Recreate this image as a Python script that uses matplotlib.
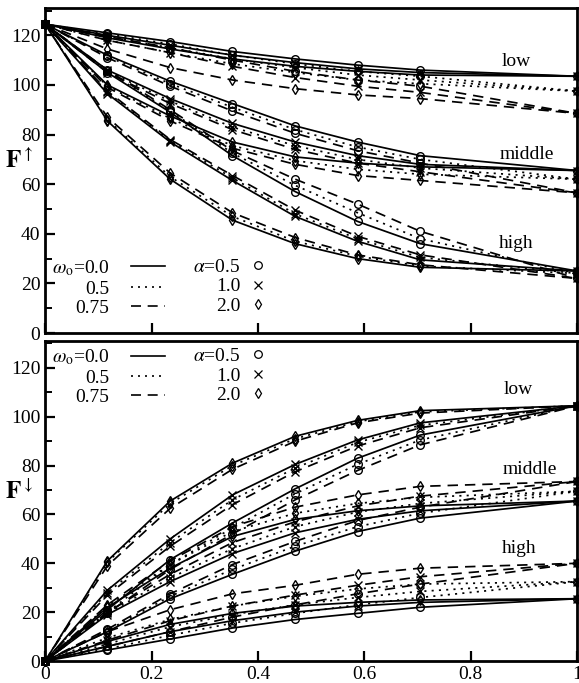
# -*- coding: utf-8 -*-

# F-up / F-down against mu for three groups (low, middle, high),
# three single scattering albedos (line style) and three alphas (marker).

import matplotlib
matplotlib.use("Agg")
import matplotlib.pyplot as plt
from matplotlib.lines import Line2D
from matplotlib.ticker import MultipleLocator

plt.rcParams["font.family"] = ["Liberation Serif", "DejaVu Serif"]
plt.rcParams["mathtext.fontset"] = "stix"

mu = [0.0, 0.117, 0.235, 0.352, 0.47, 0.587, 0.705, 1.0]

omega_labels = [r"$\omega_{\mathrm{o}}$=0.0", "0.5", "0.75"]
alpha_labels = [r"$\alpha$=0.5", "1.0", "2.0"]
group_names = ["low", "middle", "high"]

# upward flux, rows are alpha = 0.5, 1.0, 2.0
up_low_w00 = [[124.5, 121.0, 117.5, 113.5, 110.5, 108.0, 106.0, 103.5],
              [124.5, 120.0, 116.0, 112.0, 109.0, 106.5, 105.0, 103.5],
              [124.5, 119.0, 114.5, 110.5, 107.5, 105.5, 104.0, 103.5]]
up_low_w05 = [[124.5, 120.5, 116.5, 112.0, 108.5, 105.5, 103.5, 97.5],
              [124.5, 119.5, 115.0, 110.5, 107.0, 104.0, 102.0, 97.5],
              [124.5, 118.0, 113.0, 108.5, 105.0, 102.0, 100.5, 97.5]]
up_low_w075 = [[124.5, 119.5, 115.0, 110.0, 105.5, 102.0, 99.5, 88.5],
               [124.5, 118.0, 113.0, 107.5, 103.0, 99.5, 97.0, 88.5],
               [124.5, 114.5, 107.0, 102.0, 98.5, 96.0, 94.5, 88.5]]

up_mid_w00 = [[124.5, 112.0, 101.5, 92.5, 83.5, 77.0, 71.5, 65.5],
              [124.5, 106.0, 94.5, 84.5, 77.0, 71.5, 68.0, 65.5],
              [124.5, 100.0, 87.5, 77.0, 71.0, 68.5, 67.0, 65.5]]
up_mid_w05 = [[124.5, 111.5, 100.5, 91.0, 82.0, 75.0, 70.0, 62.0],
              [124.5, 105.5, 93.5, 83.0, 75.5, 70.0, 66.5, 62.0],
              [124.5, 99.5, 86.5, 75.5, 69.5, 66.0, 64.0, 62.0]]
up_mid_w075 = [[124.5, 111.0, 99.5, 89.5, 80.5, 73.5, 68.5, 56.5],
               [124.5, 105.0, 92.5, 82.0, 74.0, 68.5, 65.0, 56.5],
               [124.5, 99.0, 85.5, 74.5, 68.0, 63.5, 61.5, 56.5]]

up_high_w00 = [[124.5, 105.0, 89.0, 71.5, 57.0, 45.0, 36.0, 25.0],
               [124.5, 96.5, 77.0, 61.5, 47.0, 37.0, 29.5, 25.0],
               [124.5, 85.5, 62.0, 45.5, 36.0, 30.0, 26.5, 25.0]]
up_high_w05 = [[124.5, 105.5, 89.5, 72.5, 59.5, 48.5, 38.0, 24.0],
               [124.5, 97.0, 77.5, 62.5, 48.0, 38.0, 30.5, 24.0],
               [124.5, 86.0, 63.0, 47.0, 37.0, 31.0, 27.0, 24.0]]
up_high_w075 = [[124.5, 106.0, 90.0, 73.5, 62.0, 52.0, 41.0, 22.0],
                [124.5, 97.5, 78.0, 63.5, 49.5, 39.0, 31.5, 22.0],
                [124.5, 87.0, 64.5, 48.5, 38.5, 31.5, 27.5, 22.0]]

# downward flux
dn_low_w00 = [[0.0, 21.0, 41.5, 56.5, 70.5, 83.0, 92.5, 104.5],
              [0.0, 29.0, 50.0, 68.0, 80.5, 90.5, 97.5, 104.5],
              [0.0, 41.0, 65.5, 81.0, 92.0, 98.5, 102.5, 104.5]]
dn_low_w05 = [[0.0, 20.0, 39.5, 54.5, 68.5, 80.5, 90.5, 104.5],
              [0.0, 28.0, 48.5, 66.0, 79.0, 89.5, 96.5, 104.5],
              [0.0, 40.5, 64.5, 80.0, 91.0, 98.0, 102.0, 104.5]]
dn_low_w075 = [[0.0, 19.5, 37.5, 52.0, 66.0, 78.0, 88.5, 104.5],
               [0.0, 27.0, 47.0, 64.0, 77.5, 88.0, 95.5, 104.5],
               [0.0, 39.0, 62.5, 78.5, 90.0, 97.5, 101.5, 104.5]]

dn_mid_w00 = [[0.0, 12.0, 25.5, 35.5, 45.0, 53.0, 58.5, 65.5],
              [0.0, 19.0, 32.5, 44.0, 52.5, 58.0, 61.5, 65.5],
              [0.0, 22.0, 38.0, 51.0, 58.0, 61.5, 63.5, 65.5]]
dn_mid_w05 = [[0.0, 12.5, 26.5, 37.5, 47.0, 55.0, 60.5, 69.5],
              [0.0, 19.5, 34.0, 46.0, 55.0, 61.0, 64.5, 69.5],
              [0.0, 22.5, 39.5, 53.0, 60.5, 64.5, 67.0, 69.5]]
dn_mid_w075 = [[0.0, 13.0, 27.5, 39.5, 49.0, 57.5, 63.0, 73.5],
               [0.0, 20.0, 35.5, 48.5, 57.0, 63.5, 67.5, 73.5],
               [0.0, 23.0, 41.0, 55.0, 63.0, 68.0, 71.5, 73.5]]

dn_high_w00 = [[0.0, 4.5, 9.0, 13.5, 17.0, 19.5, 22.0, 25.5],
               [0.0, 6.0, 12.0, 16.5, 20.0, 22.5, 24.0, 25.5],
               [0.0, 8.0, 15.0, 19.5, 22.5, 24.0, 25.0, 25.5]]
dn_high_w05 = [[0.0, 5.0, 10.5, 15.5, 19.5, 23.0, 26.0, 32.5],
               [0.0, 7.0, 14.0, 19.0, 23.0, 26.0, 28.5, 32.5],
               [0.0, 9.5, 17.0, 22.5, 26.5, 29.5, 31.5, 32.5]]
dn_high_w075 = [[0.0, 6.0, 12.0, 18.0, 23.0, 27.5, 31.5, 40.0],
                [0.0, 8.5, 16.5, 22.5, 27.0, 31.0, 34.5, 40.0],
                [0.0, 12.0, 21.0, 27.5, 31.0, 35.5, 38.0, 40.0]]

line_styles = ["-", (0, (1.2, 3.0)), (0, (6.0, 4.0))]
marker_kinds = ["o", "x", "d"]
marker_sizes = [5.5, 5.5, 5.5]

FONT = 14

def DrawCurves(ax, groups):
    for group in groups:
        for w, curves in enumerate(group):
            for a, values in enumerate(curves):
                ax.plot(mu, values, color = "black", linestyle = line_styles[w], lw = 1.25,
                        marker = marker_kinds[a], ms = marker_sizes[a], mfc = "none",
                        mec = "black", mew = 1.0, clip_on = False)

def DrawLegend(ax, anchor_y):
    line_handles = [Line2D([], [], color = "black", lw = 1.2, linestyle = s) for s in line_styles]
    leg1 = ax.legend(line_handles, omega_labels, loc = "upper left", bbox_to_anchor = (0.012, anchor_y),
                     frameon = False, markerfirst = False, fontsize = FONT, handlelength = 1.75,
                     handletextpad = 1.1, labelspacing = 0.1, borderpad = 0, borderaxespad = 0)
    ax.add_artist(leg1)
    mark_handles = [Line2D([], [], color = "black", linestyle = "none", marker = m, ms = 5.5,
                           mfc = "none", mew = 0.9) for m in marker_kinds]
    ax.legend(mark_handles, alpha_labels, loc = "upper left", bbox_to_anchor = (0.278, anchor_y),
              frameon = False, markerfirst = False, fontsize = FONT, handlelength = 0.6,
              handletextpad = 0.6, labelspacing = 0.1, borderpad = 0, borderaxespad = 0)

def StyleAxes(ax, ylabel, show_x):
    ax.set_xlim(0, 1.0)
    ax.set_ylim(0, 131)
    ax.xaxis.set_major_locator(MultipleLocator(0.2))
    ax.yaxis.set_major_locator(MultipleLocator(20))
    ax.yaxis.set_minor_locator(MultipleLocator(10))
    ax.tick_params(which = "major", direction = "in", length = 7, width = 1.6, labelsize = FONT,
                   top = False, right = False, labelbottom = show_x)
    ax.tick_params(which = "minor", direction = "in", length = 5, width = 1.4, top = False, right = False)
    ax.set_xticks([0, 0.2, 0.4, 0.6, 0.8, 1.0])
    ax.set_xticklabels(["0", "0.2", "0.4", "0.6", "0.8", "1"])
    for sp in ax.spines.values():
        sp.set_linewidth(2.0)
    ax.set_ylabel(ylabel, rotation = 0, fontsize = 18, ha = "center", va = "center")
    ax.yaxis.set_label_coords(-0.05, 0.53)

fig = plt.figure(figsize = (5.79, 6.83), dpi = 100)
ax1 = fig.add_axes([0.078, 0.5124, 0.919, 0.4758])
ax2 = fig.add_axes([0.078, 0.0322, 0.919, 0.4685])

DrawCurves(ax1, [[up_low_w00, up_low_w05, up_low_w075],
                 [up_mid_w00, up_mid_w05, up_mid_w075],
                 [up_high_w00, up_high_w05, up_high_w075]])
DrawCurves(ax2, [[dn_low_w00, dn_low_w05, dn_low_w075],
                 [dn_mid_w00, dn_mid_w05, dn_mid_w075],
                 [dn_high_w00, dn_high_w05, dn_high_w075]])

StyleAxes(ax1, r"$\mathbf{F}^{\uparrow}$", False)
StyleAxes(ax2, r"$\mathbf{F}^{\downarrow}$", True)

DrawLegend(ax1, 0.23)
DrawLegend(ax2, 0.98)

# group names
for name, x, y in zip(group_names, [0.885, 0.905, 0.885], [109.5, 72.0, 36.0]):
    ax1.text(x, y, name, fontsize = FONT, ha = "center", va = "center")
for name, x, y in zip(group_names, [0.89, 0.91, 0.89], [111.0, 78.5, 46.0]):
    ax2.text(x, y, name, fontsize = FONT, ha = "center", va = "center")

fig.savefig("out.png", dpi = 100)
